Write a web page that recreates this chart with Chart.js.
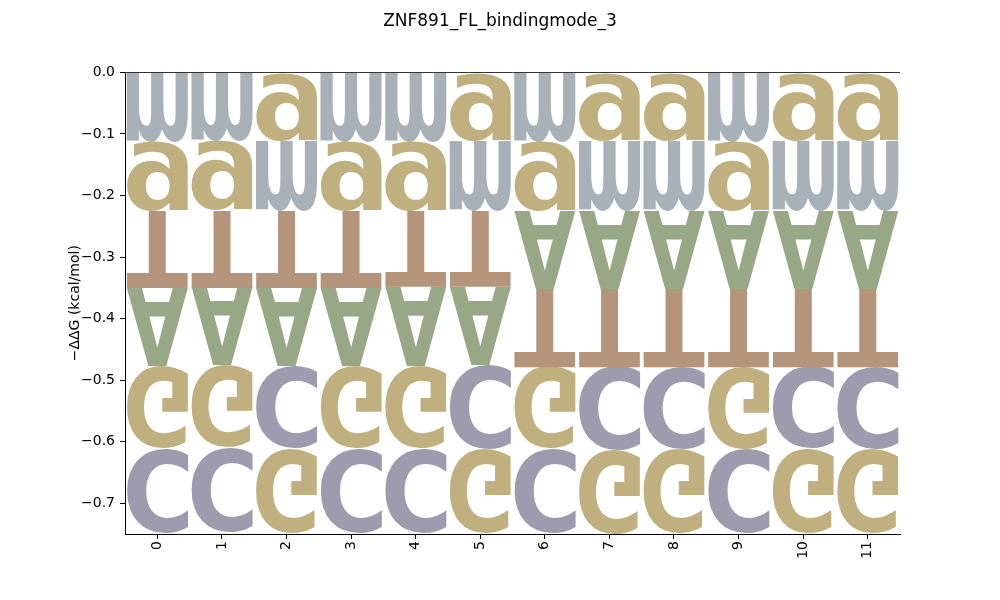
<!DOCTYPE html>
<html><head><meta charset="utf-8">
<script src="https://cdn.jsdelivr.net/npm/chart.js@4.4.1/dist/chart.umd.min.js"></script>
<style>html,body{margin:0;padding:0;background:#fff}#wrap{width:1000px;height:600px}</style>
</head><body><div id="wrap"><canvas id="c" width="1000" height="600"></canvas></div>
<script>
// ---- data ----
const positions = ['0','1','2','3','4','5','6','7','8','9','10','11'];
const letters = ['A','C','G','T','m','g'];
const valuesA = [-0.127,-0.127,-0.126,-0.127,-0.128,-0.127,-0.126,-0.126,-0.126,-0.126,-0.126,-0.126];
const valuesC = [-0.136,-0.137,-0.135,-0.136,-0.137,-0.136,-0.136,-0.136,-0.134,-0.137,-0.135,-0.134];
const valuesG = [-0.135,-0.135,-0.137,-0.135,-0.135,-0.137,-0.135,-0.137,-0.137,-0.134,-0.137,-0.137];
const valuesT = [-0.126,-0.125,-0.126,-0.126,-0.124,-0.124,-0.127,-0.127,-0.128,-0.128,-0.127,-0.128];
const valuesM = [-0.112,-0.111,-0.114,-0.112,-0.112,-0.114,-0.112,-0.114,-0.114,-0.112,-0.114,-0.114];
const valuesGl = [-0.113,-0.113,-0.111,-0.113,-0.113,-0.111,-0.113,-0.111,-0.111,-0.113,-0.111,-0.111];
const yTicks = [0,-0.1,-0.2,-0.3,-0.4,-0.5,-0.6,-0.7];
const titleText = 'ZNF891_FL_bindingmode_3';
const yLabel = '\u2212\u0394\u0394G (kcal/mol)';

// ---- style ----
const letterColors = {A:'#98a785', C:'#9d9bad', G:'#c0b07f', T:'#b4957c', m:'#a8b0b8', g:'#c0b07f'};
const seriesValues = {A:valuesA, C:valuesC, G:valuesG, T:valuesT, m:valuesM, g:valuesGl};

// stacking like logomaker (most negative furthest from zero)
const ranges = {};
letters.forEach(l => ranges[l] = []);
positions.forEach((p, i) => {
  const vs = letters.map(l => ({l, v: seriesValues[l][i]}));
  vs.sort((a, b) => a.v - b.v);
  let floor = vs.reduce((s, o) => s + Math.min(o.v, 0), 0);
  vs.forEach(o => { const h = Math.abs(o.v); ranges[o.l][i] = [floor, floor + h]; floor += h; });
});

const datasets = letters.map(l => ({
  label: l,
  data: ranges[l],
  glyph: l,
  glyphColor: letterColors[l],
  backgroundColor: 'rgba(0,0,0,0)',
  borderWidth: 0,
  grouped: false,
  categoryPercentage: 1.0,
  barPercentage: 0.95
}));

const glyphPlugin = {
  id: 'glyphs',
  afterDatasetsDraw(chart) {
    const ctx = chart.ctx;
    chart.data.datasets.forEach((ds, di) => {
      const meta = chart.getDatasetMeta(di);
      meta.data.forEach(el => {
        const {x, y, base, width} = el.getProps(['x','y','base','width'], true);
        const top = Math.min(y, base), bottom = Math.max(y, base);
        const h = bottom - top;
        if (h <= 0) return;
        ctx.save();
        ctx.font = 'bold 200px "DejaVu Sans"';
        ctx.textBaseline = 'alphabetic';
        ctx.textAlign = 'left';
        const m = ctx.measureText(ds.glyph);
        const gw = m.actualBoundingBoxLeft + m.actualBoundingBoxRight;
        const gh = m.actualBoundingBoxAscent + m.actualBoundingBoxDescent;
        ctx.translate(x - width / 2, bottom);
        ctx.scale(width / gw, -h / gh);
        ctx.fillStyle = ds.glyphColor;
        ctx.fillText(ds.glyph, m.actualBoundingBoxLeft, m.actualBoundingBoxAscent);
        ctx.restore();
      });
    });
    // baseline at zero
    const ys = chart.scales.y, area = chart.chartArea;
    const y0 = Math.round(ys.getPixelForValue(0)) + 0.5;
    ctx.save();
    ctx.strokeStyle = '#333333';
    ctx.lineWidth = 1;
    ctx.beginPath(); ctx.moveTo(area.left, y0); ctx.lineTo(area.right, y0); ctx.stroke();
    ctx.restore();
  }
};

const tickFont = {family: '"DejaVu Sans"', size: 14};
new Chart(document.getElementById('c'), {
  type: 'bar',
  data: {labels: positions, datasets},
  options: {
    responsive: false,
    animation: false,
    devicePixelRatio: 1,
    layout: {padding: {left: 67, right: 67, top: 0, bottom: 0}},
    plugins: {
      legend: {display: false},
      tooltip: {enabled: false},
      title: {display: true, text: titleText, color: '#000',
        font: {family: '"DejaVu Sans"', size: 17, weight: 'normal'},
        padding: {top: 11, bottom: 41}}
    },
    scales: {
      x: {
        type: 'category', offset: true,
        grid: {display: true, drawOnChartArea: false, offset: false, tickLength: 5, color: '#000'},
        border: {display: true, color: '#000', width: 1},
        ticks: {minRotation: 90, maxRotation: 90, color: '#000', font: tickFont, padding: 2},
        afterFit(s) { s.height = 66; }
      },
      y: {
        type: 'linear', min: -0.75, max: 0,
        afterBuildTicks(s) { s.ticks = yTicks.map(v => ({value: v})); },
        grid: {display: true, drawOnChartArea: false, tickLength: 5, color: '#000'},
        border: {display: true, color: '#000', width: 1},
        ticks: {color: '#000', font: tickFont, padding: 5,
          callback: v => v === 0 ? '0.0' : '\u2212' + Math.abs(v).toFixed(1)},
        title: {display: true, text: yLabel, color: '#000', font: tickFont, padding: {top: 0, bottom: 0}},
        afterFit(s) { s.width = 58; }
      },
      yR: {
        type: 'linear', position: 'right', display: true,
        grid: {display: false}, border: {display: false}, ticks: {display: false},
        afterFit(s) { s.width = 33; }
      }
    }
  },
  plugins: [glyphPlugin]
});
</script></body></html>
